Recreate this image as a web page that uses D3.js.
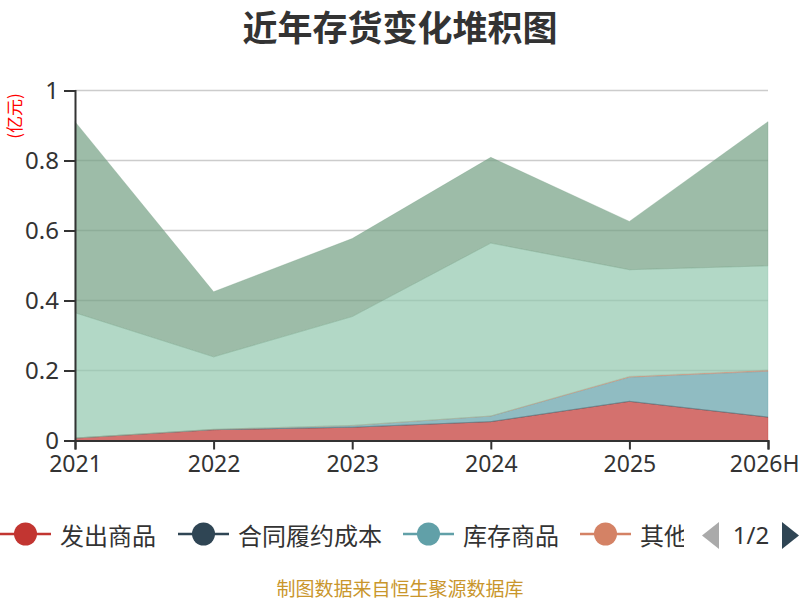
<!DOCTYPE html>
<html>
<head>
<meta charset="utf-8">
<script src="https://cdn.jsdelivr.net/npm/d3@7/dist/d3.min.js"></script>
<style>
  body { margin: 0; background: #fff; }
  svg { font-family: "Noto Sans CJK SC", "Noto Sans", sans-serif; }
</style>
</head>
<body>
<div id="chart"></div>
<script>
// data (亿元)
var years = ["2021", "2022", "2023", "2024", "2025", "2026H"];
var seriesNames = ["发出商品", "合同履约成本", "库存商品", "其他", "原材料", "在产品"];
var seriesColors = ["#c23531", "#2f4554", "#61a0a8", "#d48265", "#91c7ae", "#749f83"];
var fachu = [0.007, 0.031, 0.038, 0.054, 0.112, 0.067];
var hetong = [0, 0, 0, 0, 0, 0];
var kucun = [0, 0.001, 0.005, 0.016, 0.069, 0.131];
var qita = [0, 0, 0, 0, 0.002, 0.003];
var yuancailiao = [0.358, 0.207, 0.311, 0.494, 0.305, 0.298];
var zaichanpin = [0.546, 0.186, 0.223, 0.245, 0.138, 0.412];
var yTicks = [0, 0.2, 0.4, 0.6, 0.8, 1];
var legendPage = "1/2";

function draw() {

	var width = 800;
	var height = 600;
	var values = [fachu, hetong, kucun, qita, yuancailiao, zaichanpin];

	var rows = years.map(function(y, i) {
		var row = { year: y };
		seriesNames.forEach(function(name, k) { row[name] = values[k][i]; });
		return row;
	});

	var svg = d3.select("#chart")
		.append("svg")
		.attr("width", width)
		.attr("height", height);

	// title
	svg.append("text")
		.attr("x", 400)
		.attr("y", 25)
		.attr("text-anchor", "middle")
		.attr("dominant-baseline", "central")
		.attr("font-size", 35)
		.attr("font-weight", "bold")
		.attr("fill", "#333")
		.text("近年存货变化堆积图");

	var x = d3.scalePoint().domain(years).range([75, 768]);
	var y = d3.scaleLinear().domain([0, 1]).range([440.5, 90.5]);

	// grid lines
	svg.append("g")
		.selectAll("line")
		.data(yTicks.filter(function(d) { return d > 0; }))
		.enter()
		.append("line")
		.attr("x1", 75)
		.attr("x2", 768)
		.attr("y1", function(d) { return y(d); })
		.attr("y2", function(d) { return y(d); })
		.attr("stroke", "#ccc")
		.attr("stroke-width", 1.5);

	var stack = d3.stack().keys(seriesNames);
	var layers = stack(rows);

	var area = d3.area()
		.x(function(d) { return x(d.data.year); })
		.y0(function(d) { return y(d[0]); })
		.y1(function(d) { return y(d[1]); });

	svg.append("g")
		.selectAll("path")
		.data(layers)
		.enter()
		.append("path")
		.attr("d", area)
		.attr("fill", function(d, i) { return seriesColors[i]; })
		.attr("fill-opacity", 0.7)
		.attr("stroke", function(d, i) { return seriesColors[i]; })
		.attr("stroke-opacity", 0.5)
		.attr("stroke-width", 0.6);

	// y axis
	var yAxis = svg.append("g")
		.attr("transform", "translate(75,0)")
		.call(d3.axisLeft(y).tickValues(yTicks).tickSize(11).tickPadding(5).tickFormat(d3.format("~g")));
	yAxis.select(".domain").attr("stroke", "#333").attr("stroke-width", 2);
	yAxis.selectAll(".tick line").attr("stroke", "#333").attr("stroke-width", 2);
	yAxis.selectAll("text").attr("font-size", 24).attr("fill", "#333")
		.attr("font-family", "'Noto Sans', sans-serif");

	// x axis
	var xAxis = svg.append("g")
		.attr("transform", "translate(0,440.5)")
		.call(d3.axisBottom(x).tickSize(9).tickPadding(6));
	xAxis.select(".domain").attr("stroke", "#333").attr("stroke-width", 2);
	xAxis.selectAll(".tick line").attr("stroke", "#333").attr("stroke-width", 2);
	xAxis.selectAll("text").attr("font-size", 23).attr("fill", "#333")
		.attr("font-family", "'Noto Sans', sans-serif");
	// keep the last label inside the canvas
	xAxis.selectAll(".tick text")
		.filter(function(d, i, nodes) { return i === nodes.length - 1; })
		.attr("text-anchor", "end")
		.attr("x", 799 - x(years[years.length - 1]));

	// unit label
	svg.append("text")
		.attr("transform", "translate(13.5,116) rotate(-90)")
		.attr("text-anchor", "middle")
		.attr("dominant-baseline", "central")
		.attr("font-size", 17)
		.attr("fill", "red")
		.text("(亿元)");

	// legend (page 1 of 2, first four series)
	var legendX = [0, 178, 403, 580];
	var legend = svg.append("g").attr("clip-path", "url(#legendClip)");
	svg.append("clipPath").attr("id", "legendClip")
		.append("rect").attr("x", 0).attr("y", 505).attr("width", 684).attr("height", 60);

	var item = legend.selectAll("g")
		.data(seriesNames.slice(0, 4))
		.enter()
		.append("g")
		.attr("transform", function(d, i) { return "translate(" + legendX[i] + ",534)"; });

	item.append("line")
		.attr("x1", 0).attr("x2", 51)
		.attr("stroke", function(d, i) { return seriesColors[i]; })
		.attr("stroke-width", 2.5);
	item.append("circle")
		.attr("cx", 25.5)
		.attr("r", 11.5)
		.attr("fill", function(d, i) { return seriesColors[i]; });
	item.append("text")
		.attr("x", 60)
		.attr("dominant-baseline", "central")
		.attr("font-size", 24)
		.attr("fill", "#333")
		.text(function(d) { return d; });

	// legend pager
	svg.append("path")
		.attr("d", "M719,522 L719,549 L702,535.5 Z")
		.attr("fill", "#aaa");
	svg.append("text")
		.attr("x", 751)
		.attr("y", 534)
		.attr("text-anchor", "middle")
		.attr("dominant-baseline", "central")
		.attr("font-size", 24)
		.attr("fill", "#333")
		.attr("font-family", "'Noto Sans', sans-serif")
		.text(legendPage);
	svg.append("path")
		.attr("d", "M782,522 L782,549 L799,535.5 Z")
		.attr("fill", "#2f4554");

	// source note
	svg.append("text")
		.attr("x", 400)
		.attr("y", 587)
		.attr("text-anchor", "middle")
		.attr("dominant-baseline", "central")
		.attr("font-size", 19)
		.attr("fill", "#c9962c")
		.text("制图数据来自恒生聚源数据库");
}

draw();
</script>
</body>
</html>
